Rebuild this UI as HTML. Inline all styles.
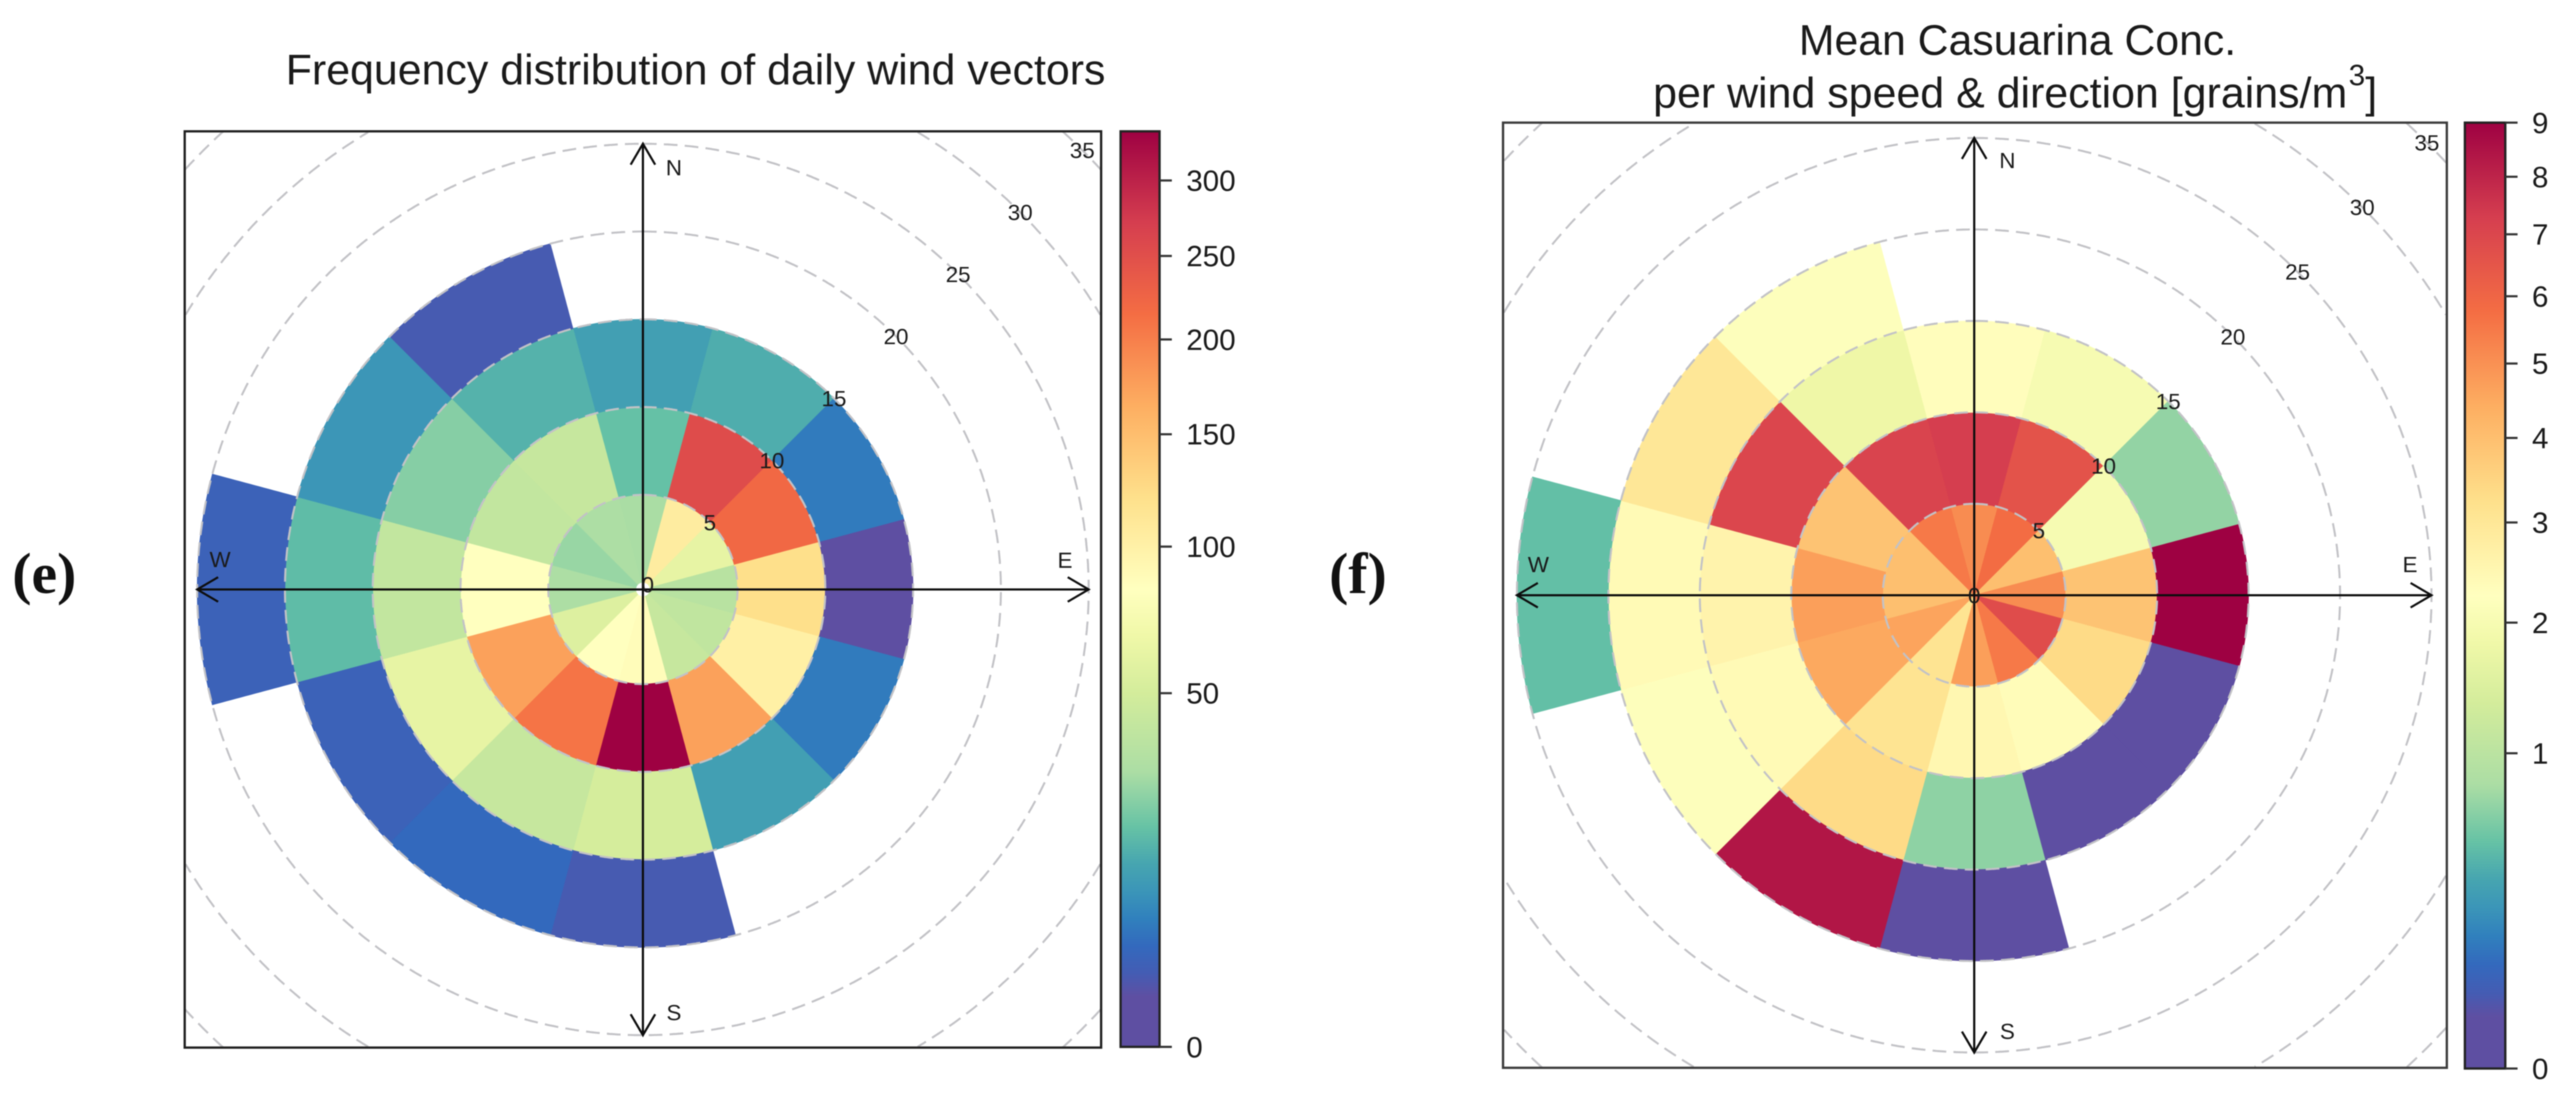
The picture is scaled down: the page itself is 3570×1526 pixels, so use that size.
<!DOCTYPE html>
<html lang="en">
<head>
<meta charset="utf-8">
<title>Wind frequency and Casuarina concentration polar plots</title>
<style>
html,body{margin:0;padding:0;background:#fff;}
body{width:3570px;height:1526px;overflow:hidden;}
svg{display:block;filter:blur(0.7px);}
text{font-family:"Liberation Sans",sans-serif;fill:#1a1a1a;}
</style>
</head>
<body>
<svg id="figure" xmlns="http://www.w3.org/2000/svg" width="3570" height="1526" viewBox="0 0 3570 1526">
  <rect x="0" y="0" width="3570" height="1526" fill="#ffffff"/>
  <text x="17" y="822" style="font-family:'Liberation Serif',serif;font-weight:bold;font-size:80px;fill:#111">(e)</text>
  <text x="1842" y="822" style="font-family:'Liberation Serif',serif;font-weight:bold;font-size:80px;fill:#111">(f)</text>
  <text x="396" y="117" font-size="59" textLength="1136" lengthAdjust="spacingAndGlyphs">Frequency distribution of daily wind vectors</text>
  <text x="2493" y="76" font-size="59" textLength="606" lengthAdjust="spacingAndGlyphs">Mean Casuarina Conc.</text>
  <text y="149" font-size="59"><tspan x="2291" textLength="962" lengthAdjust="spacingAndGlyphs">per wind speed &amp; direction [grains/m</tspan><tspan x="3255" y="118" font-size="41">3</tspan><tspan x="3278" y="149">]</tspan></text>
  <g id="panel-e"></g>
  <g id="panel-f"></g>
</svg>
<script>
// ---------- Data: sector directions (degrees clockwise from north) ----------
const directions = [0, 30, 60, 90, 120, 150, 180, 210, 240, 270, 300, 330];
const speedBinEdges = [0, 5, 10, 15, 20, 25];
const gridSpeeds = [5, 10, 15, 20, 25, 30, 35];
const compassLabels = ['N', 'E', 'S', 'W'];

// ---------- Panel (e): number of days per direction, one array per speed bin ----------
const freqBin0to5   = [30, 105, 62, 36, 40, 43, 87, 84, 56, 31, 27, 31];
const freqBin5to10  = [19, 254, 220, 121, 101, 174, 335, 209, 174, 84, 41, 43];
const freqBin10to15 = [12, 15, 6, 1, 6, 12, 51, 43, 62, 41, 24, 16];
const freqBin15to20 = [null, null, null, null, null, null, 2, 4, 3, 18, 10, 2];
const freqBin20to25 = [null, null, null, null, null, null, null, null, null, 3, null, null];
const freqTicks = [0, 50, 100, 150, 200, 250, 300];
const freqMax = 335;

// ---------- Panel (f): mean concentration per direction, one array per speed bin ----------
const concBin0to5   = [5.1, 5.8, 4.0, 5.1, 6.8, 5.5, 4.7, 3.1, 4.6, 4.0, 4.0, 5.5];
const concBin5to10  = [7.3, 6.6, 2.0, 3.9, 3.35, 2.35, 2.5, 3.1, 4.5, 4.7, 3.9, 7.1];
const concBin10to15 = [2.3, 2.0, 0.7, 9, 0, 0, 0.68, 3.35, 2.4, 2.6, 7.0, 1.8];
const concBin15to20 = [null, null, null, null, null, null, 0, 8.4, 2.2, 2.4, 3.0, 2.2];
const concBin20to25 = [null, null, null, null, null, null, null, null, null, 0.5, null, null];
const concTicks = [0, 1, 2, 3, 4, 5, 6, 7, 8, 9];
const concMax = 9;

// Colour ramp (normalised position, colour)
const rampPositions = [0, 0.055, 0.08, 0.11, 0.14, 0.17, 0.2, 0.24, 0.3, 0.386, 0.45, 0.5, 0.6, 0.7, 0.8, 0.9, 1];
const rampColours = ['#5E4FA2', '#5E4FA2', '#445CB3', '#3369BD', '#3080BD', '#3B95B8', '#46A5B0', '#66C2A5', '#ABDDA4', '#D3EC9B', '#F0F8A8', '#FFFFBF', '#FEE08B', '#FDAE61', '#F46D43', '#D53E4F', '#9E0142'];

const NS = 'http://www.w3.org/2000/svg';
function hexRgb(h) { return [1, 3, 5].map(i => parseInt(h.substr(i, 2), 16)); }
function rampColour(t) {
  t = Math.max(0, Math.min(1, t));
  for (let i = 1; i < rampPositions.length; i++) {
    if (t <= rampPositions[i]) {
      const f = (t - rampPositions[i - 1]) / (rampPositions[i] - rampPositions[i - 1]);
      const a = hexRgb(rampColours[i - 1]), b = hexRgb(rampColours[i]);
      return 'rgb(' + a.map((c, k) => Math.round(c + (b[k] - c) * f)).join(',') + ')';
    }
  }
  return rampColours[rampColours.length - 1];
}
function make(parent, tag, attrs) {
  const el = document.createElementNS(NS, tag);
  for (const k in attrs) el.setAttribute(k, attrs[k]);
  parent.appendChild(el);
  return el;
}

function drawPanel(root, p) {
  const radius = s => p.r0 + p.pxPerSpeed * s;
  const polar = (r, deg) => {
    const a = deg * Math.PI / 180;
    return [p.cx + r * Math.sin(a), p.cy - r * Math.cos(a)];
  };
  const sqrtPos = v => Math.sqrt(v / p.max);
  const barY = v => p.barBottom - sqrtPos(v) * (p.barBottom - p.frameTop);
  const inFrame = q => q[0] >= p.frameLeft && q[0] <= p.frameRight && q[1] >= p.frameTop && q[1] <= p.frameBottom;

  const defs = make(root, 'defs', {});

  const plot = make(root, 'g', {});
  
  

  // sectors
  p.bins.forEach((bin, b) => {
    bin.forEach((value, i) => {
      if (value === null) return;
      const r1 = radius(speedBinEdges[b]), r2 = radius(speedBinEdges[b + 1]);
      const a1 = directions[i] - 15, a2 = directions[i] + 15;
      const P1 = polar(r1, a1), P2 = polar(r2, a1), P3 = polar(r2, a2), P4 = polar(r1, a2);
      const d = 'M' + P1 + ' L' + P2 + ' A' + r2 + ' ' + r2 + ' 0 0 1 ' + P3 + ' L' + P4 + ' A' + r1 + ' ' + r1 + ' 0 0 0 ' + P1 + 'Z';
      const col = rampColour(sqrtPos(value));
      const sector = make(plot, 'path', { d: d, fill: col, stroke: col, 'stroke-width': 0.8 });
      
      
    });
  });

  // centre dot
  if (p.r0 > 0) {
    const dot = make(plot, 'circle', { cx: p.cx, cy: p.cy, r: p.r0, fill: '#ffffff' });
    
    
  }

  // dashed grid: each ring keeps only the stretches inside the frame
  gridSpeeds.forEach(s => {
    const r = radius(s);
    let d = '';
    let penDown = false;
    for (let a = 0; a <= 360; a += 0.25) {
      const q = polar(r, a);
      if (inFrame(q)) {
        d += (penDown ? 'L' : 'M') + q[0].toFixed(1) + ' ' + q[1].toFixed(1);
        penDown = true;
      } else {
        penDown = false;
      }
    }
    const ring = make(plot, 'path', { d: d, fill: 'none', stroke: '#c2c2c6', 'stroke-width': 2.8, 'stroke-dasharray': '19 10' });
    
    
  });

  // axis arrows
  compassLabels.forEach((lab, i) => {
    const deg = i * 90;
    const len = radius(25);
    const tip = polar(len, deg);
    const arrow = make(root, 'g', { fill: 'none', stroke: '#0d0d0d', 'stroke-width': 3 });
    
    
    make(arrow, 'line', { x1: p.cx, y1: p.cy, x2: tip[0], y2: tip[1] });
    const back = polar(len - 29, deg);
    const nx = Math.cos(deg * Math.PI / 180), ny = Math.sin(deg * Math.PI / 180);
    make(arrow, 'polyline', { points: (back[0] + nx * 17) + ',' + (back[1] + ny * 17) + ' ' + tip[0] + ',' + tip[1] + ' ' + (back[0] - nx * 17) + ',' + (back[1] - ny * 17) });
  });

  // compass labels
  compassLabels.forEach((lab, i) => {
    const pos = p.compassPos[i];
    const t = make(root, 'text', { x: pos[0], y: pos[1], 'font-size': 31, 'text-anchor': 'middle', dy: '0.35em' });
    t.textContent = lab;
    
    
  });

  // speed labels along the NE diagonal
  [0].concat(gridSpeeds).forEach(s => {
    const pos = polar(radius(s), 45);
    const t = make(root, 'text', { x: pos[0], y: pos[1], 'font-size': 31, 'text-anchor': 'middle', dy: '0.35em' });
    t.textContent = String(s);
    
    
  });

  // frame
  const frame = make(root, 'rect', { x: p.frameLeft, y: p.frameTop, width: p.frameRight - p.frameLeft, height: p.frameBottom - p.frameTop, fill: 'none', stroke: p.frameColour, 'stroke-width': 3.2 });
  
  

  // colour bar
  const grad = make(defs, 'linearGradient', { id: p.id + '-ramp', x1: 0, y1: 1, x2: 0, y2: 0 });
  rampPositions.forEach((pos, i) => {
    make(grad, 'stop', { offset: pos, 'stop-color': rampColours[i] });
  });
  const bar = make(root, 'rect', { x: p.barLeft, y: p.frameTop, width: p.barRight - p.barLeft, height: p.barBottom - p.frameTop, fill: 'url(#' + p.id + '-ramp)', stroke: '#222222', 'stroke-width': 3.2 });
  
  

  p.ticks.forEach(v => {
    const y = barY(v);
    const tick = make(root, 'line', { x1: p.barRight, y1: y, x2: p.barRight + 17, y2: y, stroke: '#333333', 'stroke-width': 3 });
    
    
    const lab = make(root, 'text', { x: p.barRight + 37, y: y, 'font-size': 41, dy: '0.35em' });
    lab.textContent = String(v);
    
    
  });
}

drawPanel(document.getElementById('panel-e'), {
  id: 'e', cx: 891, cy: 817, r0: 9.5, pxPerSpeed: 24.33,
  frameLeft: 256, frameRight: 1526, frameTop: 182, frameBottom: 1452, frameColour: '#1f1f1f',
  barLeft: 1553, barRight: 1607, barBottom: 1451,
  bins: [freqBin0to5, freqBin5to10, freqBin10to15, freqBin15to20, freqBin20to25],
  ticks: freqTicks, max: freqMax,
  compassPos: [[934, 232], [1476, 776], [934, 1403], [305, 775]]
});
drawPanel(document.getElementById('panel-f'), {
  id: 'f', cx: 2736, cy: 825, r0: 0, pxPerSpeed: 25.35,
  frameLeft: 2083, frameRight: 3391, frameTop: 170, frameBottom: 1480, frameColour: '#3a3a3a',
  barLeft: 3416, barRight: 3472, barBottom: 1481,
  bins: [concBin0to5, concBin5to10, concBin10to15, concBin15to20, concBin20to25],
  ticks: concTicks, max: concMax,
  compassPos: [[2782, 222], [3340, 782], [2782, 1429], [2132, 782]]
});
</script>
</body>
</html>
